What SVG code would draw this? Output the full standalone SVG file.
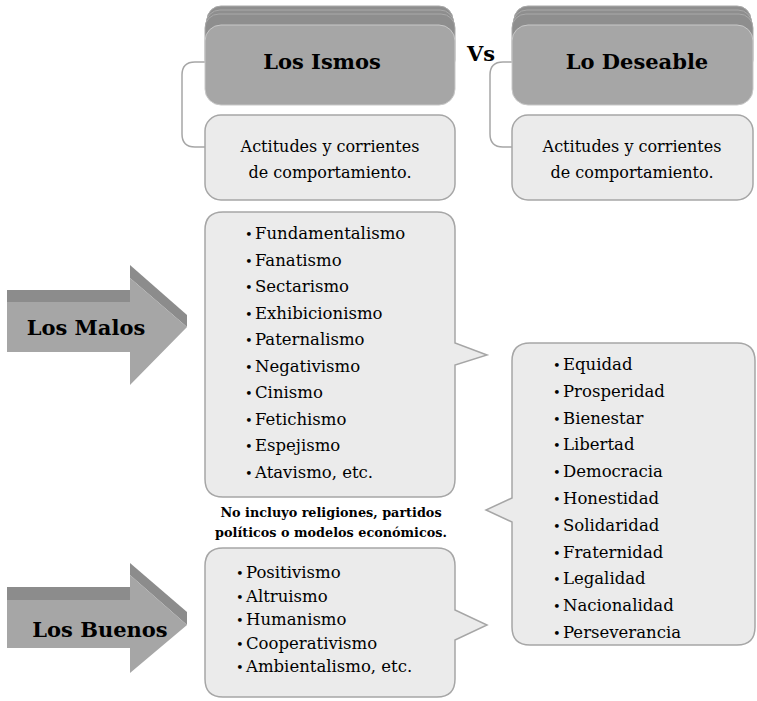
<svg xmlns="http://www.w3.org/2000/svg" width="757" height="701" viewBox="0 0 757 701">
<style>
.stack{fill:#8e8e8e;stroke:#a9a9a9;stroke-width:1}
.head{fill:#a6a6a6;stroke:#c8c8c8;stroke-width:1}
.sub{fill:#ebebeb;stroke:#a6a6a6;stroke-width:1.5}
.call{fill:#ebebeb;stroke:#a6a6a6;stroke-width:1.5}
.conn{fill:none;stroke:#a6a6a6;stroke-width:1.5}
.front{fill:#a6a6a6}
.bevel{fill:#8c8c8c}
text{font-family:"DejaVu Serif","Liberation Serif",serif;fill:#000}
.h{font-size:21px;font-weight:bold;text-anchor:middle}
.s{font-size:16px;text-anchor:middle}
.li{font-size:16.5px}
.n{font-size:12.8px;font-weight:bold;text-anchor:middle}
.a{font-size:21px;font-weight:bold;text-anchor:middle}
.b{font-size:13px}
</style>
<g id="connectors">
<path class="conn" d="M205,62 H195 Q182,62 182,75 V134 Q182,147 195,147 H205"/>
<path class="conn" d="M512,62 H503 Q490,62 490,75 V134 Q490,147 503,147 H512"/>
</g>
<g id="ismos-header">
<rect class="stack" x="207" y="6" width="246" height="60" rx="14"/>
<rect class="stack" x="206" y="10" width="248" height="60" rx="14"/>
<rect class="stack" x="205" y="14" width="250" height="60" rx="14"/>
<rect class="head" x="205" y="25" width="250" height="80" rx="16"/>
<text class="h" x="322" y="69">Los Ismos</text>
</g>
<g id="ismos-sub">
<rect class="sub" x="205" y="115" width="250" height="85" rx="16"/>
<text class="s" x="330" y="152">Actitudes y corrientes</text>
<text class="s" x="330" y="178">de comportamiento.</text>
</g>
<g id="vs">
<text class="h" x="481" y="61">Vs</text>
</g>
<g id="deseable-header">
<rect class="stack" x="514" y="6" width="237" height="60" rx="14"/>
<rect class="stack" x="513" y="10" width="239" height="60" rx="14"/>
<rect class="stack" x="512" y="14" width="241" height="60" rx="14"/>
<rect class="head" x="512" y="25" width="241" height="80" rx="16"/>
<text class="h" x="637" y="69">Lo Deseable</text>
</g>
<g id="deseable-sub">
<rect class="sub" x="512" y="115" width="241" height="85" rx="16"/>
<text class="s" x="632" y="152">Actitudes y corrientes</text>
<text class="s" x="632" y="178">de comportamiento.</text>
</g>
<g id="malos-arrow">
<polygon class="bevel" points="7,290 130,290 130,302 7,302"/>
<polygon class="bevel" points="130,265 187,315 187,327 130,278"/>
<polygon class="front" points="7,302 130,302 130,278 187,327 130,385 130,352 7,352"/>
<text class="a" x="86" y="335">Los Malos</text>
</g>
<g id="malos-list">
<path class="call" d="M223,212 H437 Q455,212 455,230 V343 L487,355 L455,365 V479 Q455,497 437,497 H223 Q205,497 205,479 V230 Q205,212 223,212 Z"/>
<text class="li" x="245" y="239"><tspan class="b">•</tspan><tspan x="255">Fundamentalismo</tspan></text>
<text class="li" x="245" y="265.5"><tspan class="b">•</tspan><tspan x="255">Fanatismo</tspan></text>
<text class="li" x="245" y="292"><tspan class="b">•</tspan><tspan x="255">Sectarismo</tspan></text>
<text class="li" x="245" y="318.5"><tspan class="b">•</tspan><tspan x="255">Exhibicionismo</tspan></text>
<text class="li" x="245" y="345"><tspan class="b">•</tspan><tspan x="255">Paternalismo</tspan></text>
<text class="li" x="245" y="371.5"><tspan class="b">•</tspan><tspan x="255">Negativismo</tspan></text>
<text class="li" x="245" y="398"><tspan class="b">•</tspan><tspan x="255">Cinismo</tspan></text>
<text class="li" x="245" y="424.5"><tspan class="b">•</tspan><tspan x="255">Fetichismo</tspan></text>
<text class="li" x="245" y="451"><tspan class="b">•</tspan><tspan x="255">Espejismo</tspan></text>
<text class="li" x="245" y="477.5"><tspan class="b">•</tspan><tspan x="255">Atavismo, etc.</tspan></text>
</g>
<g id="note">
<text class="n" x="331" y="517">No incluyo religiones, partidos</text>
<text class="n" x="331" y="537">políticos o modelos económicos.</text>
</g>
<g id="buenos-arrow">
<polygon class="bevel" points="7,587 130,587 130,600 7,600"/>
<polygon class="bevel" points="130,563 187,612 187,625 130,575"/>
<polygon class="front" points="7,600 130,600 130,575 187,625 130,673 130,648 7,648"/>
<text class="a" x="100" y="637">Los Buenos</text>
</g>
<g id="buenos-list">
<path class="call" d="M223,548 H437 Q455,548 455,566 V610 L487,625 L455,640 V679 Q455,697 437,697 H223 Q205,697 205,679 V566 Q205,548 223,548 Z"/>
<text class="li" x="236" y="578"><tspan class="b">•</tspan><tspan x="246">Positivismo</tspan></text>
<text class="li" x="236" y="601.5"><tspan class="b">•</tspan><tspan x="246">Altruismo</tspan></text>
<text class="li" x="236" y="625"><tspan class="b">•</tspan><tspan x="246">Humanismo</tspan></text>
<text class="li" x="236" y="648.5"><tspan class="b">•</tspan><tspan x="246">Cooperativismo</tspan></text>
<text class="li" x="236" y="672"><tspan class="b">•</tspan><tspan x="246">Ambientalismo, etc.</tspan></text>
</g>
<g id="deseable-list">
<path class="call" d="M530,343 H737 Q755,343 755,361 V627 Q755,645 737,645 H530 Q512,645 512,627 V522 L486,510 L512,498 V361 Q512,343 530,343 Z"/>
<text class="li" x="553" y="370"><tspan class="b">•</tspan><tspan x="563">Equidad</tspan></text>
<text class="li" x="553" y="396.8"><tspan class="b">•</tspan><tspan x="563">Prosperidad</tspan></text>
<text class="li" x="553" y="423.6"><tspan class="b">•</tspan><tspan x="563">Bienestar</tspan></text>
<text class="li" x="553" y="450.4"><tspan class="b">•</tspan><tspan x="563">Libertad</tspan></text>
<text class="li" x="553" y="477.2"><tspan class="b">•</tspan><tspan x="563">Democracia</tspan></text>
<text class="li" x="553" y="504"><tspan class="b">•</tspan><tspan x="563">Honestidad</tspan></text>
<text class="li" x="553" y="530.8"><tspan class="b">•</tspan><tspan x="563">Solidaridad</tspan></text>
<text class="li" x="553" y="557.6"><tspan class="b">•</tspan><tspan x="563">Fraternidad</tspan></text>
<text class="li" x="553" y="584.4"><tspan class="b">•</tspan><tspan x="563">Legalidad</tspan></text>
<text class="li" x="553" y="611.2"><tspan class="b">•</tspan><tspan x="563">Nacionalidad</tspan></text>
<text class="li" x="553" y="638"><tspan class="b">•</tspan><tspan x="563">Perseverancia</tspan></text>
</g>
</svg>
